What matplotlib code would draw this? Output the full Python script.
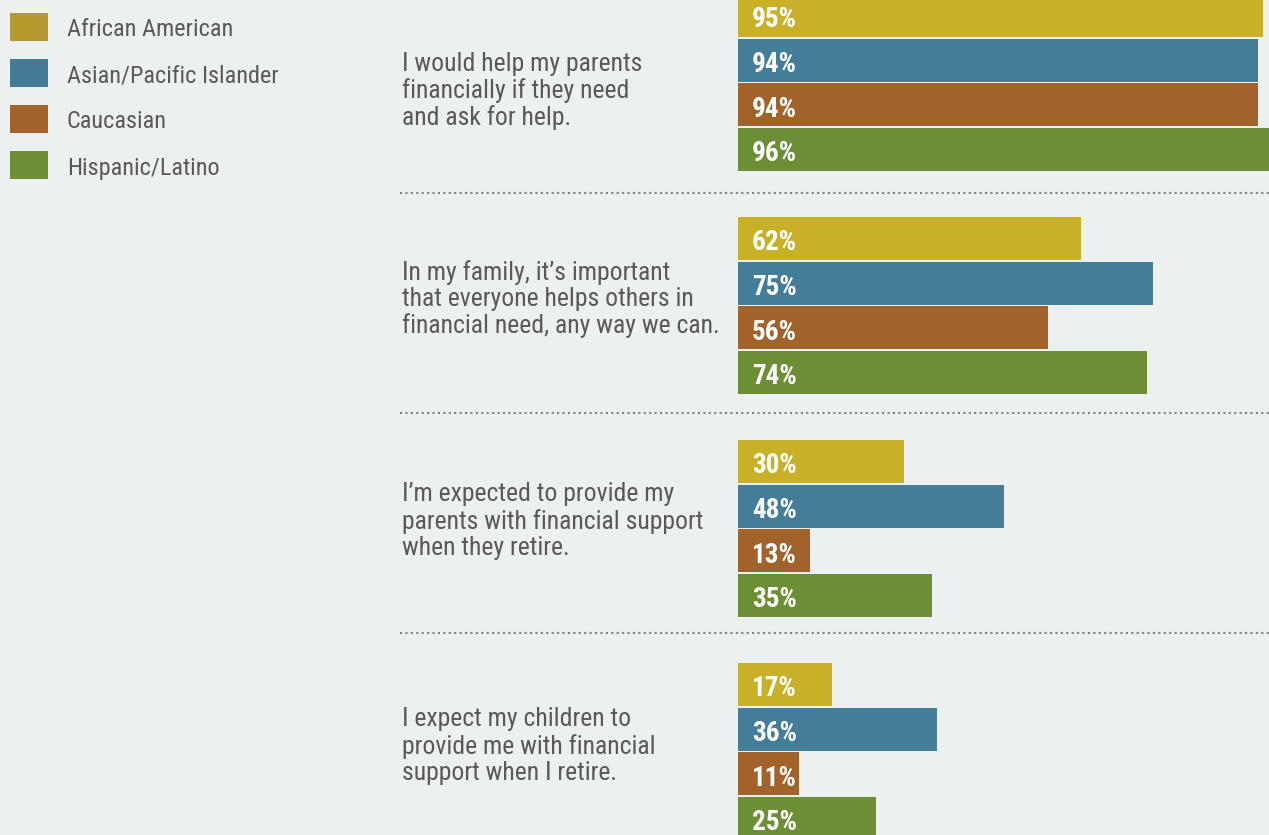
import matplotlib.pyplot as plt
from matplotlib.patches import Rectangle

# survey answers, percent agreeing
groups = ['African American', 'Asian/Pacific Islander', 'Caucasian', 'Hispanic/Latino']
questions = [
    'I would help my parents\nfinancially if they need\nand ask for help.',
    'In my family, it\u2019s important\nthat everyone helps others in\nfinancial need, any way we can.',
    'I\u2019m expected to provide my\nparents with financial support\nwhen they retire.',
    'I expect my children to\nprovide me with financial\nsupport when I retire.',
]
african_american = [95, 62, 30, 17]
asian_pacific = [94, 75, 48, 36]
caucasian = [94, 56, 13, 11]
hispanic_latino = [96, 74, 35, 25]

bar_colors = ['#C8B028', '#447D98', '#A2632A', '#6C8F35']
legend_colors = ['#B59B2F', '#437A96', '#A2622A', '#6C8F35']
bg = '#EDF0F1'
text_color = '#58595B'

W, H = 1269, 835
fig = plt.figure(figsize=(W / 100, H / 100), dpi=100, facecolor=bg)
plt.rcParams['font.family'] = ['Roboto Condensed', 'Roboto', 'DejaVu Sans']

# bar area, y measured in pixels from the top
x0 = 738
ax = fig.add_axes([x0 / W, 0, 1 - x0 / W, 1])
ax.set_facecolor(bg)
ax.set_xlim(0, 96)
ax.set_ylim(H, 0)
ax.axis('off')

group_pitch = 223
bar_pitch = 44.6
bar_h = 43
first_top = -6
# vertical middle of each question's text block
question_mid = [91, 299, 521, 746]

series = [african_american, asian_pacific, caucasian, hispanic_latino]
for g, q in enumerate(questions):
    top = first_top + g * group_pitch
    for i, vals in enumerate(series):
        y = top + i * bar_pitch + bar_h / 2
        ax.barh(y, vals[g], height=bar_h, color=bar_colors[i], left=0)
        ax.annotate(f'{vals[g]}%', (0, y), xytext=(10, -1), textcoords='offset points',
                    ha='left', va='center_baseline', color='white', fontsize=19.5,
                    fontweight='bold')
    fig.text(402 / W, 1 - question_mid[g] / H, q, ha='left', va='center',
             fontsize=18.5, color=text_color, linespacing=1.12)

# dotted separators between questions
for g in range(1, len(questions)):
    ysep = 193 + (g - 1) * 220
    fig.add_artist(plt.Line2D([400 / W, 1], [1 - ysep / H] * 2, color='#7F8081',
                              linewidth=1.5, linestyle=(0, (1, 1.6)),
                              dash_capstyle='butt'))

# legend
for i, name in enumerate(groups):
    top = 13 + i * 46
    fig.add_artist(Rectangle((10 / W, 1 - (top + 28) / H), 38 / W, 28 / H,
                             transform=fig.transFigure, color=legend_colors[i], lw=0))
    fig.text(67 / W, 1 - (top + 17) / H, name, ha='left', va='center',
             fontsize=17.5, color=text_color)

fig.savefig('out.png', dpi=100, facecolor=bg)
